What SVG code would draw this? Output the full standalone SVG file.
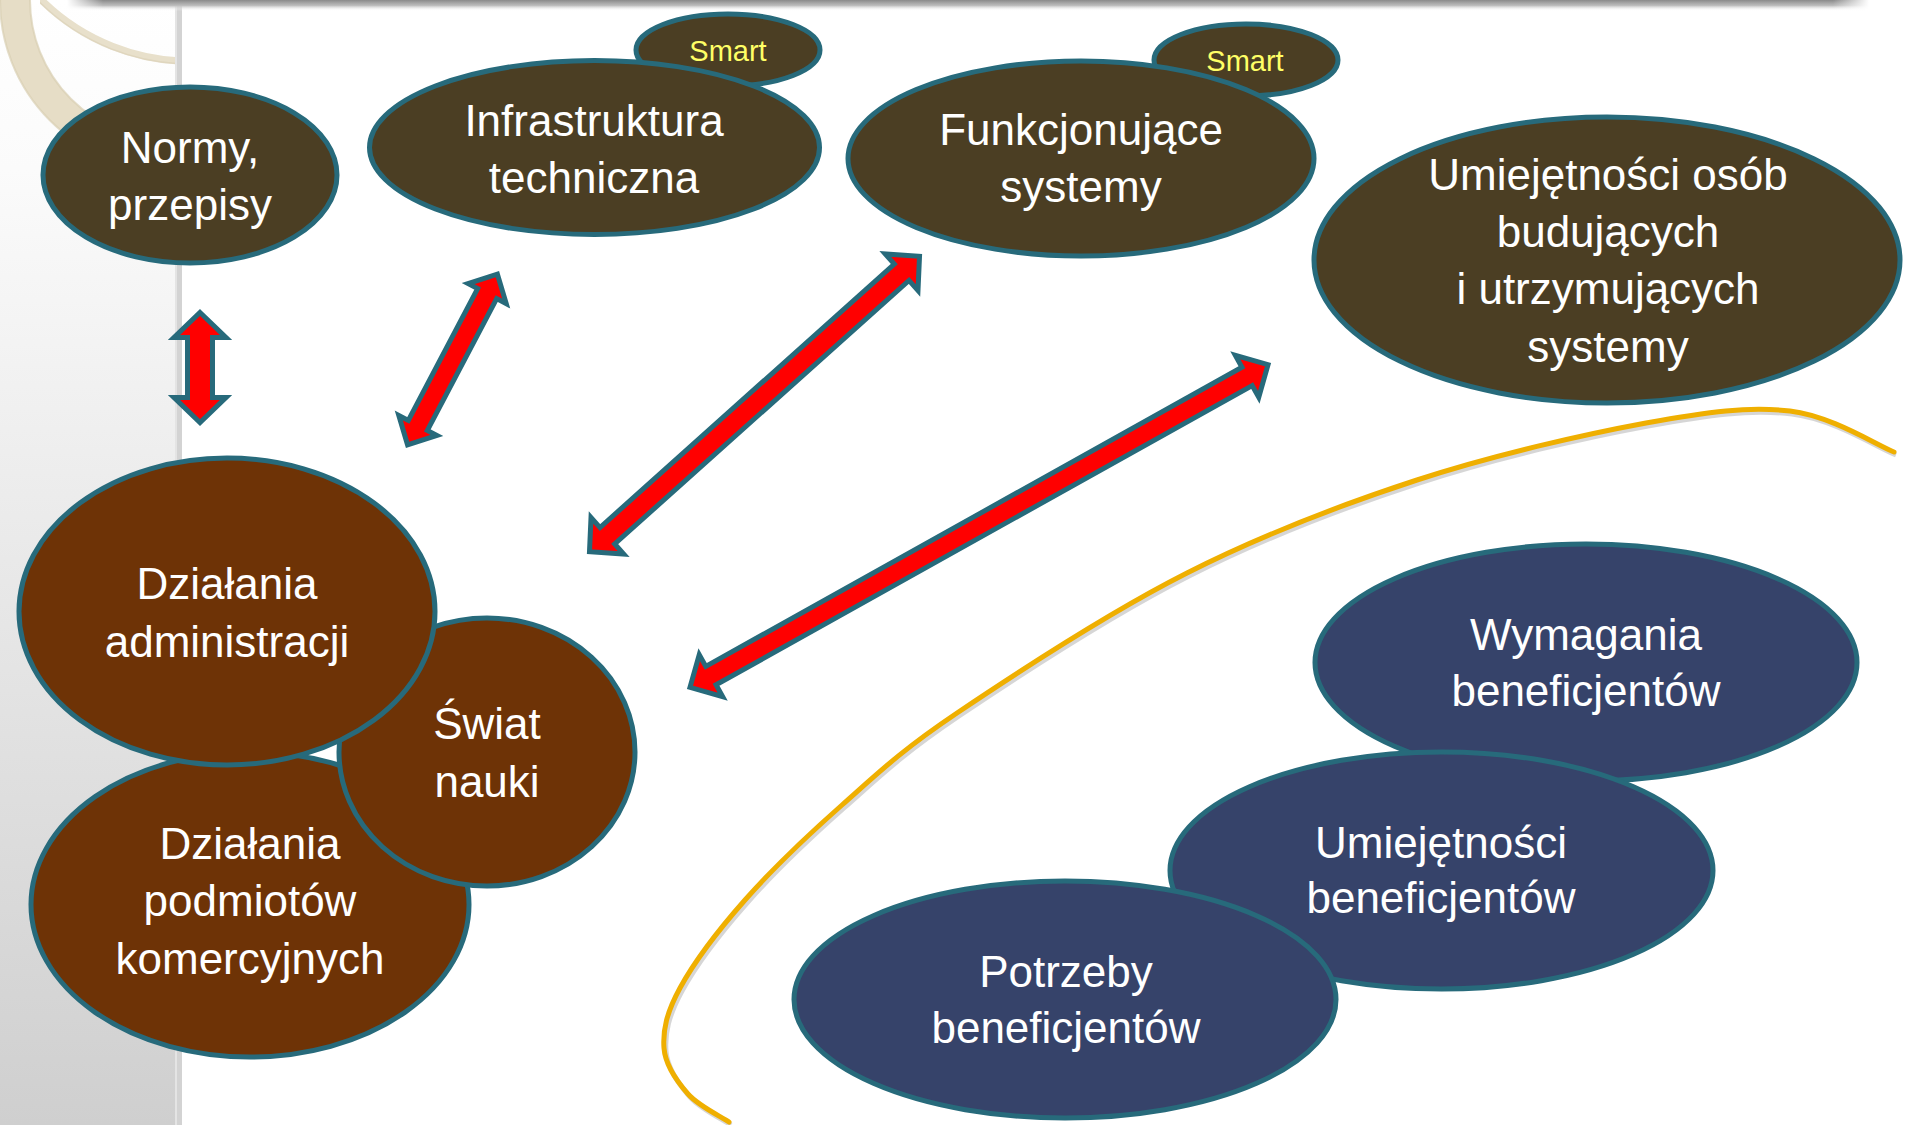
<svg xmlns="http://www.w3.org/2000/svg" width="1905" height="1125" viewBox="0 0 1905 1125">
  <defs>
    <linearGradient id="leftBand" x1="0" y1="0" x2="0" y2="1">
      <stop offset="0" stop-color="#FFFFFF"/>
      <stop offset="0.15" stop-color="#FBFBFB"/>
      <stop offset="1" stop-color="#CFCFCF"/>
    </linearGradient>
    <linearGradient id="topShadow" x1="0" y1="0" x2="0" y2="1">
      <stop offset="0" stop-color="#8A8A8A"/>
      <stop offset="0.5" stop-color="#BDBDBD"/>
      <stop offset="1" stop-color="#FFFFFF" stop-opacity="0"/>
    </linearGradient>
    <linearGradient id="topShadowH" x1="0" y1="0" x2="1" y2="0">
      <stop offset="0" stop-color="#FFFFFF" stop-opacity="1"/>
      <stop offset="0.02" stop-color="#FFFFFF" stop-opacity="0"/>
      <stop offset="0.98" stop-color="#FFFFFF" stop-opacity="0"/>
      <stop offset="1" stop-color="#FFFFFF" stop-opacity="1"/>
    </linearGradient>
    <clipPath id="leftClip">
      <rect x="0" y="0" width="178" height="1125"/>
    </clipPath>
    <clipPath id="thinClip">
      <rect x="40" y="0" width="138" height="200"/>
    </clipPath>
    <path id="sepPath" d="M1894,452 C1876.7,445.2 1831.3,415.8 1790,411 C1748.7,406.2 1708.2,411.5 1646,423 C1583.8,434.5 1493.5,455 1417,480 C1340.5,505 1263.7,534.2 1187,573 C1110.3,611.8 1014.5,674.3 957,713 C899.5,751.7 877.3,773.8 842,805 C806.7,836.2 772,869.5 745,900 C718,930.5 693.5,963.3 680,988 C666.5,1012.7 662.7,1030.3 664,1048 C665.3,1065.7 677.2,1081.7 688,1094 C698.8,1106.3 722,1117 729,1122"/>
  </defs>
  <style>
    .olive { fill: #4B3E23; stroke: #276A7B; stroke-width: 5; }
    .rust { fill: #6E3306; stroke: #276A7B; stroke-width: 5; }
    .navy { fill: #36436A; stroke: #276A7B; stroke-width: 5; }
    .lbl { font-family: "Liberation Sans", Arial, sans-serif; font-size: 44px; fill: #FFFFFF; text-anchor: middle; }
    .smart { font-family: "Liberation Sans", Arial, sans-serif; font-size: 29px; fill: #FFFF66; text-anchor: middle; }
    .arrow { fill: #FF0000; stroke: #276A7B; stroke-width: 5; stroke-linejoin: miter; }
  </style>

  <rect x="0" y="0" width="1905" height="1125" fill="#FFFFFF"/>

  <!-- background decoration -->
  <g id="background">
    <rect x="0" y="0" width="180" height="1125" fill="url(#leftBand)"/>
    <g clip-path="url(#leftClip)">
      <circle cx="170" cy="0" r="155" fill="none" stroke="#E6DDC6" stroke-width="30"/>
      <circle cx="170" cy="0" r="170" fill="none" stroke="#D9CEB2" stroke-width="2" opacity="0.7"/>
      <circle cx="170" cy="0" r="140" fill="none" stroke="#D9CEB2" stroke-width="2" opacity="0.7"/>
      <g clip-path="url(#thinClip)">
        <circle cx="190" cy="-150" r="211" fill="none" stroke="#E8E0CB" stroke-width="7"/>
        <circle cx="190" cy="-150" r="214" fill="none" stroke="#DCD2B8" stroke-width="1.5" opacity="0.7"/>
      </g>
    </g>
    <rect x="177" y="0" width="5" height="1125" fill="#D3D3D3"/>
    <rect x="175" y="0" width="2" height="1125" fill="#E4E4E4"/>
    <circle cx="180" cy="0" r="6" fill="#B3B727"/>
    <rect x="67" y="0" width="1802" height="11" fill="url(#topShadow)"/>
    <rect x="67" y="0" width="1802" height="11" fill="url(#topShadowH)"/>
  </g>

  <!-- separator curve -->
  <g id="separator">
    <use href="#sepPath" fill="none" stroke="#000000" stroke-opacity="0.16" stroke-width="5" transform="translate(2,3)"/>
    <use href="#sepPath" fill="none" stroke="#EFAF00" stroke-width="5" stroke-linecap="round"/>
  </g>

  <!-- top nodes -->
  <g id="node-normy">
    <ellipse class="olive" cx="190" cy="175" rx="147" ry="88"/>
    <text class="lbl" x="190" y="163">Normy,</text>
    <text class="lbl" x="190" y="220">przepisy</text>
  </g>

  <g id="node-smart-1">
    <ellipse class="olive" cx="728" cy="50" rx="92" ry="36"/>
    <text class="smart" x="728" y="61">Smart</text>
  </g>

  <g id="node-infrastruktura">
    <ellipse class="olive" cx="594.5" cy="147.5" rx="225" ry="87"/>
    <text class="lbl" x="594" y="136">Infrastruktura</text>
    <text class="lbl" x="594" y="193">techniczna</text>
  </g>

  <g id="node-smart-2">
    <ellipse class="olive" cx="1246" cy="60" rx="92" ry="36"/>
    <text class="smart" x="1245" y="71">Smart</text>
  </g>

  <g id="node-funkcjonujace">
    <ellipse class="olive" cx="1081" cy="158.5" rx="233" ry="97.5"/>
    <text class="lbl" x="1081" y="145">Funkcjonujące</text>
    <text class="lbl" x="1081" y="202">systemy</text>
  </g>

  <g id="node-umiejetnosci-osob">
    <ellipse class="olive" cx="1607" cy="260" rx="293" ry="143"/>
    <text class="lbl" x="1608" y="190">Umiejętności osób</text>
    <text class="lbl" x="1608" y="247">budujących</text>
    <text class="lbl" x="1608" y="304">i utrzymujących</text>
    <text class="lbl" x="1608" y="362">systemy</text>
  </g>

  <!-- left cluster -->
  <g id="node-podmioty">
    <ellipse class="rust" cx="250" cy="904.5" rx="219" ry="152.5"/>
    <text class="lbl" x="250" y="859">Działania</text>
    <text class="lbl" x="250" y="916">podmiotów</text>
    <text class="lbl" x="250" y="974">komercyjnych</text>
  </g>

  <g id="node-swiat-nauki">
    <ellipse class="rust" cx="487" cy="752" rx="148" ry="134"/>
    <text class="lbl" x="487" y="739">Świat</text>
    <text class="lbl" x="487" y="797">nauki</text>
  </g>

  <g id="node-administracja">
    <ellipse class="rust" cx="227" cy="611.5" rx="208" ry="153.5"/>
    <text class="lbl" x="227" y="599">Działania</text>
    <text class="lbl" x="227" y="657">administracji</text>
  </g>

  <!-- beneficiaries -->
  <g id="node-wymagania">
    <ellipse class="navy" cx="1586" cy="662.5" rx="271" ry="118.5"/>
    <text class="lbl" x="1586" y="650">Wymagania</text>
    <text class="lbl" x="1586" y="706">beneficjentów</text>
  </g>

  <g id="node-umiejetnosci-benef">
    <ellipse class="navy" cx="1441.5" cy="870.5" rx="271.5" ry="118.5"/>
    <text class="lbl" x="1441" y="858">Umiejętności</text>
    <text class="lbl" x="1441" y="913">beneficjentów</text>
  </g>

  <g id="node-potrzeby">
    <ellipse class="navy" cx="1065" cy="999.5" rx="271" ry="118.5"/>
    <text class="lbl" x="1066" y="987">Potrzeby</text>
    <text class="lbl" x="1066" y="1043">beneficjentów</text>
  </g>

  <!-- connectors -->
  <g id="connectors">
    <path class="arrow" transform="translate(200,367.5) rotate(90)" d="M-55,0 L-30,-26 L-30,-12.5 L30,-12.5 L30,-26 L55,0 L30,26 L30,12.5 L-30,12.5 L-30,26 Z"/>
    <path class="arrow" transform="translate(452.5,359.5) rotate(-62.28)" d="M-96.5,0 L-74.5,-21.5 L-74.5,-10.75 L74.5,-10.75 L74.5,-21.5 L96.5,0 L74.5,21.5 L74.5,10.75 L-74.5,10.75 L-74.5,21.5 Z"/>
    <path class="arrow" transform="translate(754.5,404) rotate(-41.84)" d="M-221.5,0 L-197.5,-24.5 L-197.5,-11 L197.5,-11 L197.5,-24.5 L221.5,0 L197.5,24.5 L197.5,11 L-197.5,11 L-197.5,24.5 Z"/>
    <path class="arrow" transform="translate(979,526) rotate(-29.17)" d="M-331,0 L-307,-24 L-307,-10.5 L307,-10.5 L307,-24 L331,0 L307,24 L307,10.5 L-307,10.5 L-307,24 Z"/>
  </g>
</svg>
